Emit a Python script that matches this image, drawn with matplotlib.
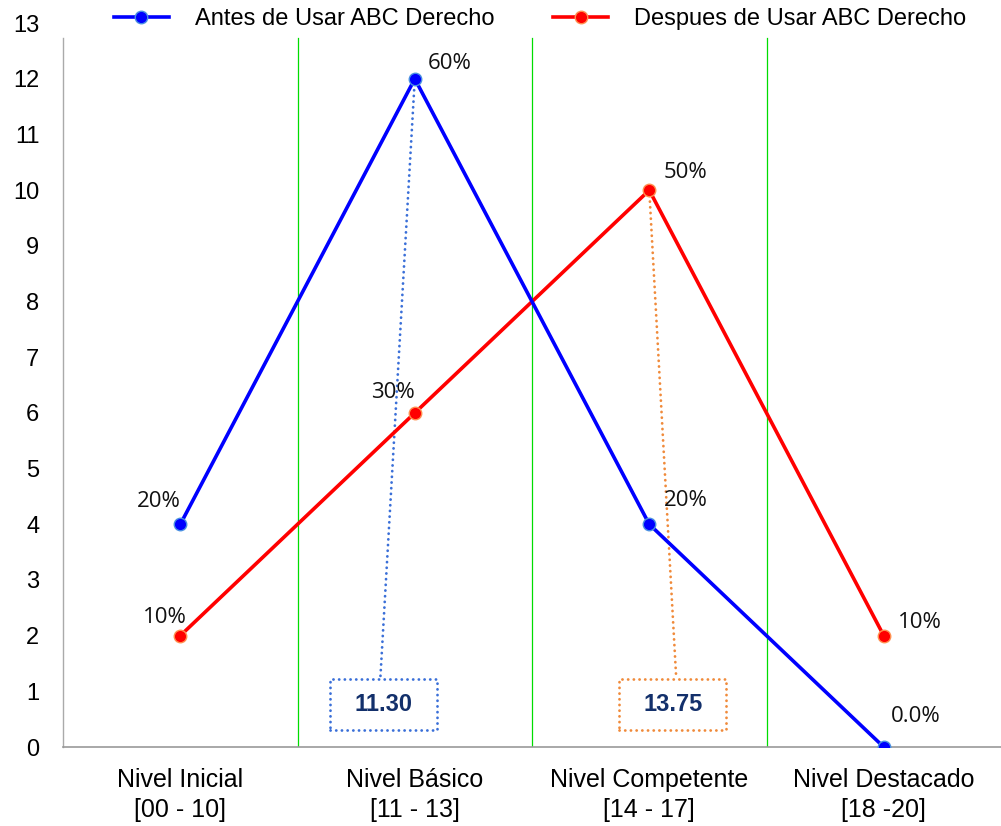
import matplotlib
matplotlib.use("Agg")
import matplotlib.pyplot as plt
from matplotlib.patches import Rectangle

categories = ["Nivel Inicial\n[00 - 10]", "Nivel Básico\n[11 - 13]",
              "Nivel Competente\n[14 - 17]", "Nivel Destacado\n[18 -20]"]
antes = [4, 12, 4, 0]
despues = [2, 6, 10, 2]
antes_labels = ["20%", "60%", "20%", "0.0%"]
despues_labels = ["10%", "30%", "50%", "10%"]
mean_antes = "11.30"
mean_despues = "13.75"
yticks = list(range(0, 14))

arial = ["Liberation Sans", "DejaVu Sans"]
calib = ["Open Sans", "DejaVu Sans"]

fig = plt.figure(figsize=(10.01, 8.26), dpi=100)
ax = fig.add_axes([0.063, 0.0956, 0.937, 0.8764])
x = list(range(len(categories)))

ax.set_xlim(-0.5, 3.5)
ax.set_ylim(0, 13)
ytop = 12.73

for xv in [0.5, 1.5, 2.5]:
    ax.plot([xv, xv], [0, ytop], color="#00dd00", lw=0.9, zorder=1)

ax.plot(x, antes, color="#0000ff", lw=2.6, marker="o", ms=9,
        markerfacecolor="#0000ff", markeredgecolor="#4a90e2", mew=1, zorder=4,
        label="Antes de Usar ABC Derecho")
ax.plot(x, despues, color="#ff0000", lw=2.6, marker="o", ms=9,
        markerfacecolor="#ff0000", markeredgecolor="#ff9050", mew=1, zorder=3,
        label="Despues de Usar ABC Derecho")

# data labels (offsets in points)
offs_a = [(-15.8, 16.6), (25.2, 11.0), (26.6, 17.3), (23.0, 22.3)]
offs_d = [(-10.8, 13.0), (-15.8, 14.4), (25.9, 13.0), (25.9, 9.4)]
for xi, yi, lab, (dx, dy) in zip(x, antes, antes_labels, offs_a):
    ax.annotate(lab, (xi, yi), xytext=(dx, dy), textcoords="offset points",
                ha="center", va="center", fontsize=16, family=calib, color="#111111", zorder=6)
for xi, yi, lab, (dx, dy) in zip(x, despues, despues_labels, offs_d):
    ax.annotate(lab, (xi, yi), xytext=(dx, dy), textcoords="offset points",
                ha="center", va="center", fontsize=16, family=calib, color="#111111", zorder=6)

# mean boxes
dot = (0, (0.05, 2.0))
def mean_box(cx, txt, color, line_from, line_to_x):
    w, h = 0.456, 0.93
    y0 = 0.30
    ax.add_patch(Rectangle((cx - w / 2, y0), w, h, fill=False, ec=color,
                           ls=dot, lw=2.0, capstyle="round", zorder=5))
    ax.text(cx, y0 + h / 2, txt, ha="center", va="center", fontsize=17,
            fontweight="bold", family=arial, color="#13306b", zorder=6)
    ax.plot([line_from[0], line_to_x], [line_from[1], y0 + h], color=color,
            ls=dot, lw=2.0, dash_capstyle="round", zorder=2)

mean_box(0.868, mean_antes, "#3a6fd8", (1, 12), 0.853)
mean_box(2.100, mean_despues, "#f08a3a", (2, 10), 2.115)

ax.set_xticks(x)
ax.set_xticklabels(categories, fontsize=18, family=arial, linespacing=1.3)
ax.set_yticks(yticks)
ax.set_yticklabels([str(v) for v in yticks], fontsize=17, family=arial)
ax.tick_params(axis="both", length=0)
ax.tick_params(axis="x", pad=15)
ax.tick_params(axis="y", pad=17)
for s in ["top", "right"]:
    ax.spines[s].set_visible(False)
ax.spines["bottom"].set_color("#999999")
ax.spines["bottom"].set_linewidth(1.2)
ax.spines["left"].set_color("#aaaaaa")
ax.spines["left"].set_linewidth(1.0)
ax.spines["left"].set_bounds(0, ytop)

leg = fig.legend(loc="center", bbox_to_anchor=(540 / 1001, 1 - 19 / 826), ncol=2, frameon=False,
                 prop={"family": arial, "size": 17}, columnspacing=2.5,
                 handlelength=2.33, handletextpad=1.1, borderpad=0, borderaxespad=0)

fig.savefig("out.png", dpi=100)
